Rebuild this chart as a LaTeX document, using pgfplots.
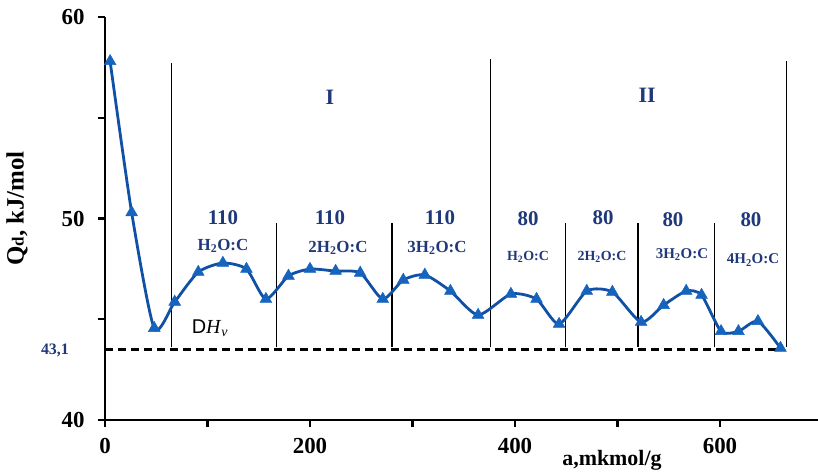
\documentclass[border=0pt]{standalone}
\usepackage{fontspec}
\setmainfont{Liberation Serif}
\newfontfamily\sansf{Liberation Sans}
\usepackage{pgfplots}
\pgfplotsset{compat=1.18}

\definecolor{navytext}{RGB}{31,56,122}
\definecolor{curveblue}{RGB}{16,80,165}
\definecolor{markblue}{RGB}{22,100,190}

\newcommand{\lab}[1]{\bfseries\fontsize{#1}{#1}\selectfont}

\begin{document}
\begin{tikzpicture}
\begin{axis}[
    scale only axis,
    width=713bp, height=403bp,
    xmin=0, xmax=695.6,
    ymin=40, ymax=60,
    axis lines*=left,
    axis line style={-, line width=2.8bp},
    xtick={0,100,...,600},
    xticklabels={0,,200,,400,,600},
    ytick={40,45,...,60},
    yticklabels={40,,50,,60},
    tick align=outside,
    major tick length=7bp,
    tick style={line width=2.4bp, black},
    /pgf/number format/assume math mode=true,
    ticklabel style={font=\lab{23}},
    yticklabel style={xshift=-10bp},
    xticklabel style={yshift=-8bp},
    clip=false,
]
% vertical dividers
\addplot[black, line width=1.1bp] coordinates {(65,43.6) (65,57.7)};
\addplot[black, line width=1.1bp] coordinates {(376,43.6) (376,57.9)};
\addplot[black, line width=1.1bp] coordinates {(665,43.6) (665,57.8)};
\addplot[black, line width=1.1bp] coordinates {(167,43.6) (167,49.8)};
\addplot[black, line width=1.1bp] coordinates {(280,43.6) (280,49.8)};
\addplot[black, line width=1.1bp] coordinates {(449,43.6) (449,49.8)};
\addplot[black, line width=1.1bp] coordinates {(520,43.6) (520,49.8)};
\addplot[black, line width=1.1bp] coordinates {(595,43.6) (595,49.8)};
% heat of vaporization
\addplot[black, line width=2.8bp, dash pattern=on 8bp off 5bp] coordinates {(0,43.5) (662,43.5)};
% Qd curve
\addplot[curveblue, line width=2.8bp, smooth, tension=0.4,
    mark=triangle*, mark size=6.8bp,
    mark options={fill=markblue, draw=markblue, line width=0.5bp}]
coordinates {
(5,57.8) (26,50.3) (48,44.56) (68,45.86) (91,47.34) (115,47.79)
(138,47.49) (157,46.0) (179,47.15) (200,47.49) (225,47.39) (249,47.3)
(271,46.0) (291,46.95) (312,47.2) (337,46.4) (364,45.21) (396,46.25)
(421,46.0) (443,44.76) (470,46.4) (495,46.35) (523,44.86) (545,45.7)
(567,46.4) (582,46.2) (601,44.4) (618,44.4) (637,44.9) (659,43.57)
};
% annotations
\node[navytext, font=\lab{22}] at (axis cs:219.5,56.03) {I};
\node[navytext, font=\lab{22}] at (axis cs:528.8,56.13) {II};
\node[navytext, font=\lab{21}] at (axis cs:115.1,50.02) {110};
\node[navytext, font=\lab{21}] at (axis cs:219.5,50.02) {110};
\node[navytext, font=\lab{21}] at (axis cs:326.8,50.02) {110};
\node[navytext, font=\lab{21}] at (axis cs:412.7,49.97) {80};
\node[navytext, font=\lab{21}] at (axis cs:485.9,50.02) {80};
\node[navytext, font=\lab{21}] at (axis cs:554.1,49.93) {80};
\node[navytext, font=\lab{21}] at (axis cs:630.2,49.93) {80};
\node[navytext, font=\lab{17}] at (axis cs:115.1,48.64) {H\textsubscript{2}O:C};
\node[navytext, font=\lab{17}] at (axis cs:227.3,48.54) {2H\textsubscript{2}O:C};
\node[navytext, font=\lab{17}] at (axis cs:323.9,48.54) {3H\textsubscript{2}O:C};
\node[navytext, font=\lab{14}] at (axis cs:412.7,48.09) {H\textsubscript{2}O:C};
\node[navytext, font=\lab{14}] at (axis cs:484.9,48.09) {2H\textsubscript{2}O:C};
\node[navytext, font=\lab{15}] at (axis cs:562.9,48.19) {3H\textsubscript{2}O:C};
\node[navytext, font=\lab{15}] at (axis cs:632.2,47.94) {4H\textsubscript{2}O:C};
\node[black, font=\fontsize{20}{20}\selectfont] at (axis cs:102.4,44.57) {{\sansf D}\textit{H}\textsubscript{\textit{v}}};
\node[navytext, font=\lab{16}] at (axis cs:-48.8,43.47) {43,1};
\node[black, font=\lab{22}] at (axis cs:494.6,38.0) {a,mkmol/g};
\node[black, font=\lab{25}, rotate=90] at (axis cs:-85.9,50.5) {Q{\fontsize{17}{17}\selectfont d}, kJ/mol};
\end{axis}
\pgfresetboundingbox
\path[use as bounding box] (-105bp,-55bp) rectangle (713bp,420bp);
\end{tikzpicture}
\end{document}
